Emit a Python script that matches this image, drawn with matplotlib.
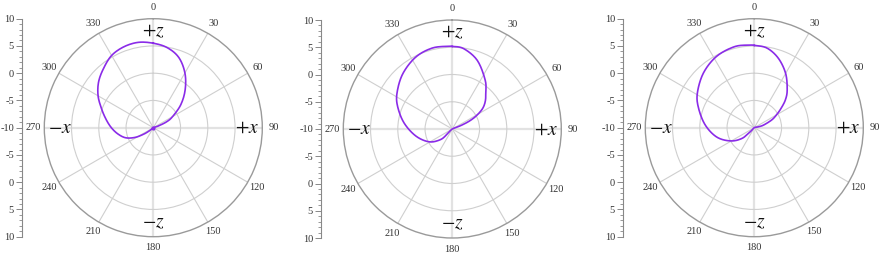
import numpy as np
import matplotlib.pyplot as plt

# ---------------------------------------------------
# Data: angle (deg, clockwise from +z) and radius
# ---------------------------------------------------

theta1 = [0, 10, 20, 30, 40, 50, 60, 66, 71, 80, 220, 231, 236, 242, 250,
          260, 270, 280, 290, 300, 310, 320, 330, 340, 350, 360]
r1 = [5.5, 4.9, 3.7, 1.6, -0.9, -3.4, -5.9, -7.3, -9.0, -10, -10, -9.2, -7.9,
      -6.2, -4.6, -3.4, -2.3, -1.2, 0.1, 1.7, 3.1, 4.2, 5.3, 5.8, 5.9, 5.5]

theta2 = [0, 8, 20, 34, 43, 50, 56, 61, 65, 68, 70, 220, 225, 228, 241, 259,
          277, 292, 303, 318, 333, 346, 357, 360]
r2 = [5.15, 4.9, 3.4, 0.8, -1.0, -2.1, -3.3, -4.9, -6.5, -8.3, -10, -10, -8.7,
      -7.1, -5.15, -3.2, -1.1, 0.8, 2.1, 3.6, 4.8, 5.3, 5.2, 5.15]

theta3 = [0, 9, 19, 30, 41, 48, 54, 60, 66, 74, 78, 82, 220, 225, 229, 241,
          256, 273, 289, 301, 317, 332, 346, 356, 360]
r3 = [5.1, 4.8, 3.5, 1.5, -0.8, -2.3, -3.9, -5.3, -6.5, -8.2, -9.2, -10, -10,
      -9.0, -7.0, -5.0, -2.9, -1.0, 0.8, 2.2, 3.7, 4.8, 5.3, 5.2, 5.1]

angle_ticks = list(range(0, 360, 30))
angle_labels = [str(a) for a in angle_ticks]
r_ticks = [-20, -15, -10, -5, 0, 5, 10, 15, 20]
r_labels = ['10', '5', '0', '-5', '-10', '-5', '0', '5', '10']
axis_names = ['$+z$', '$-z$', '$+x$', '$-x$']

series = [(theta1, r1), (theta2, r2), (theta3, r3)]
# panel centres in pixels (x, y from top) and radius
centers = [(153.3, 127.7), (452.3, 129.0), (754.3, 127.7)]
R = 109.0
W, H = 880.0, 254.0
RMIN = -10


def spline_connect(th_deg, r, n=12):
    # closed Catmull-Rom "spline" connection drawn in the plane, like the
    # smooth line style of the original plotting program
    rho = np.asarray(r, float) - RMIN
    t = np.deg2rad(th_deg)
    pts = np.column_stack([rho * np.sin(t), rho * np.cos(t)])
    keep = [0]
    for i in range(1, len(pts)):
        if np.hypot(*(pts[i] - pts[keep[-1]])) > 1e-9:
            keep.append(i)
    pts = pts[keep]
    if np.hypot(*(pts[0] - pts[-1])) < 1e-9:
        pts = pts[:-1]
    m = len(pts)
    out = []
    s = np.linspace(0, 1, n, endpoint=False)[:, None]
    for i in range(m):
        p0, p1, p2, p3 = pts[i - 1], pts[i], pts[(i + 1) % m], pts[(i + 2) % m]
        seg = 0.5 * (2 * p1 + (-p0 + p2) * s
                     + (2 * p0 - 5 * p1 + 4 * p2 - p3) * s ** 2
                     + (-p0 + 3 * p1 - 3 * p2 + p3) * s ** 3)
        out.append(seg)
    out.append(pts[:1])
    xy = np.vstack(out)
    return np.arctan2(xy[:, 0], xy[:, 1]), np.hypot(xy[:, 0], xy[:, 1]) + RMIN


plt.rcParams['mathtext.fontset'] = 'stix'
serif = 'Liberation Serif'
line_color = '#8a2be8'

fig = plt.figure(figsize=(8.8, 2.54), dpi=100)

for k, ((th, rr), (cx, cy)) in enumerate(zip(series, centers)):
    ax = fig.add_axes([(cx - R) / W, (H - cy - R) / H, 2 * R / W, 2 * R / H],
                      projection='polar')
    ax.set_theta_zero_location('N')
    ax.set_theta_direction(-1)
    ax.set_rlim(-10, 10)
    ax.set_rticks([-5, 0, 5])
    ax.set_yticklabels([])
    ax.set_thetagrids(angle_ticks, angle_labels)
    ax.tick_params(axis='x', pad=-2.5, labelsize=7.5, labelcolor='#333333')
    for lab in ax.get_xticklabels():
        lab.set_fontfamily(serif)
    ax.yaxis.grid(True, color='#cfcfcf', lw=0.8)
    for a, gl in zip(angle_ticks, ax.xaxis.get_gridlines()):
        if a % 90 == 0:
            gl.set_color('#e2e2e2')
            gl.set_linewidth(1.6)
        else:
            gl.set_color('#cfcfcf')
            gl.set_linewidth(0.8)
    ax.spines['polar'].set_color('#9a9a9a')
    ax.spines['polar'].set_linewidth(1.0)

    ts, rs = spline_connect(th, rr)
    ax.plot(ts, rs, color=line_color, lw=1.2, zorder=5)
    if k == 0:
        ax.plot([0], [RMIN], 'o', color=line_color, ms=2.0, zorder=5)
    ax.set_rlim(-10, 10)

    # axis direction labels
    pos = [(0.5, 0.945), (0.5, 0.07), (0.928, 0.5), (0.072, 0.5)]
    for name, (px, py) in zip(axis_names, pos):
        ax.text(px, py, name, transform=ax.transAxes, ha='center',
                va='center', fontsize=14, color='#111111', zorder=6)

    # vertical radius scale on the left
    ay = fig.add_axes([(cx - 131) / W, (H - cy - R) / H, 0.001, 2 * R / H])
    ay.set_ylim(-20, 20)
    ay.set_yticks(r_ticks)
    ay.set_yticklabels(r_labels, fontfamily=serif, fontsize=7.5,
                       color='#333333')
    ay.set_yticks(np.arange(-20, 21, 1), minor=True)
    ay.tick_params(axis='y', which='major', length=4, width=0.7,
                   color='#888888', pad=2)
    ay.tick_params(axis='y', which='minor', length=2, width=0.6,
                   color='#888888')
    ay.set_xticks([])
    for s in ['top', 'right', 'bottom']:
        ay.spines[s].set_visible(False)
    ay.spines['left'].set_color('#888888')
    ay.spines['left'].set_linewidth(0.8)
    ay.patch.set_visible(False)

fig.savefig('out.png', dpi=100)
